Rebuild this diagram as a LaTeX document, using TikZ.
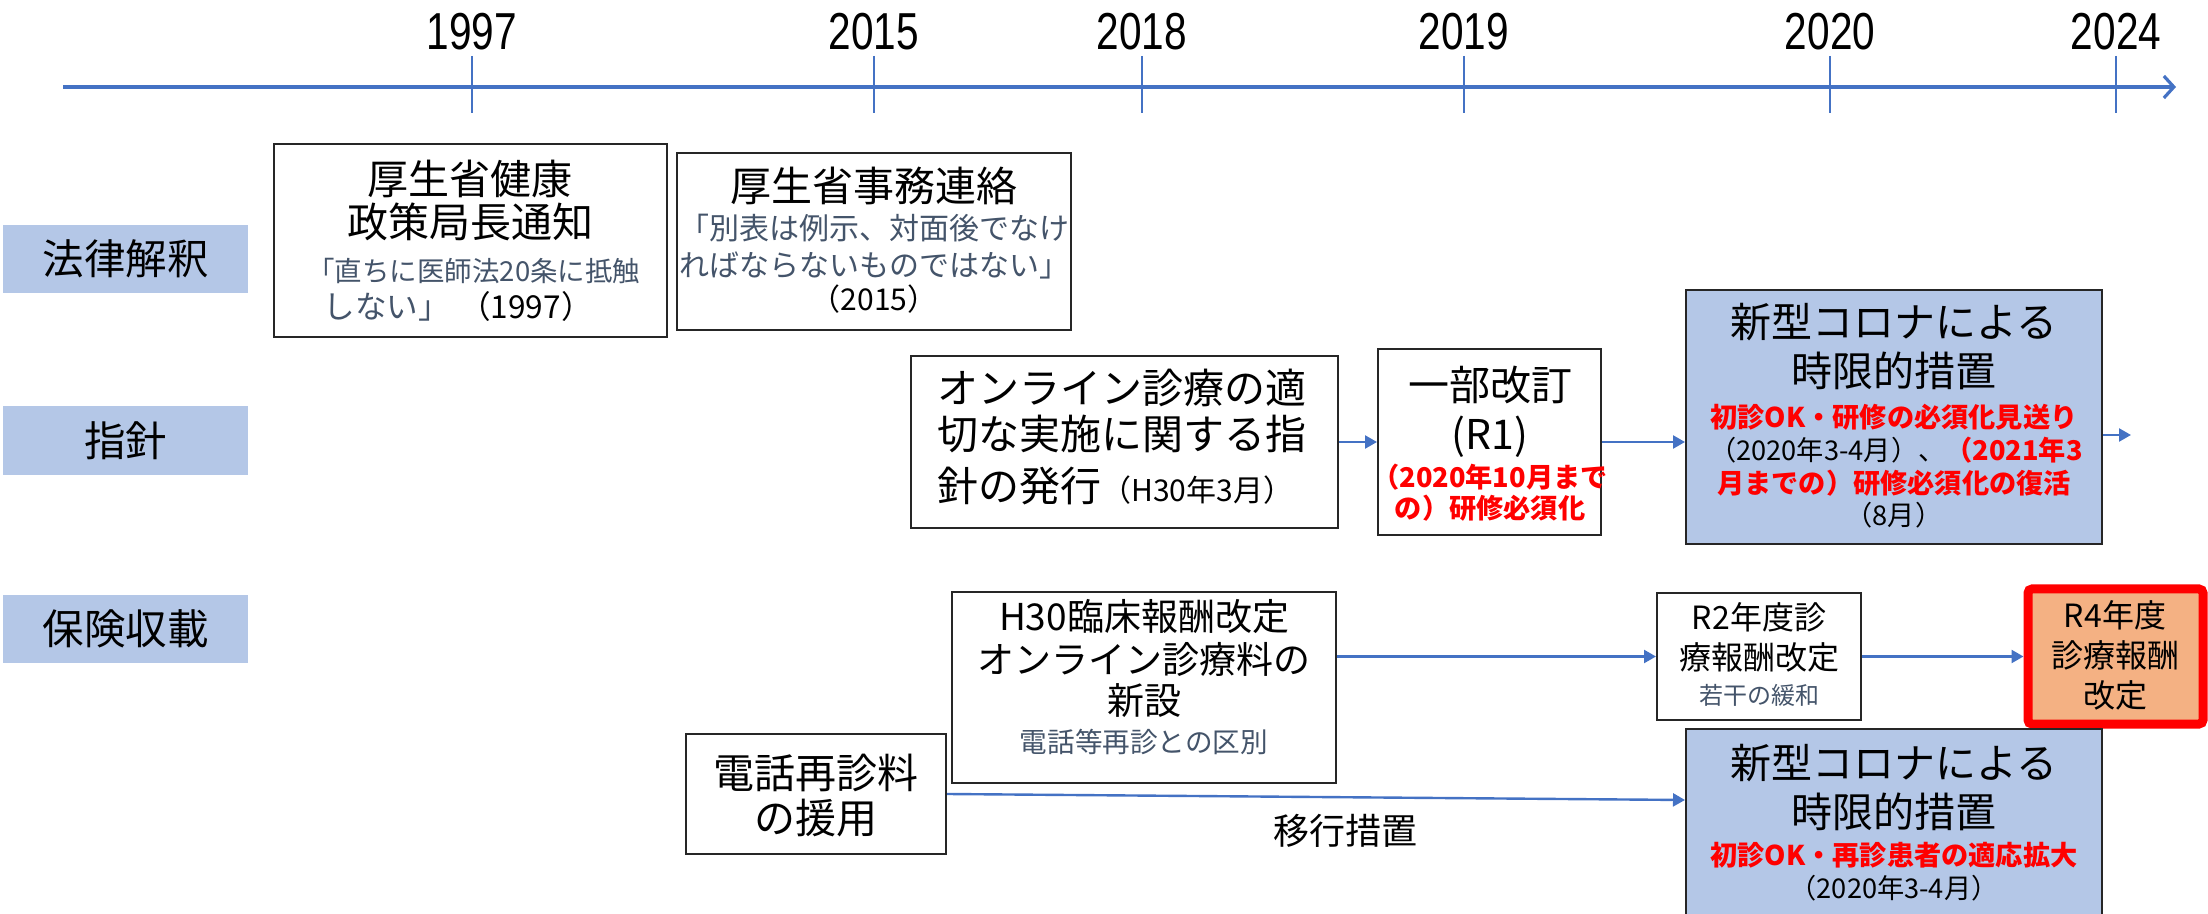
\documentclass[tikz,border=0pt]{standalone}
\usepackage{fontspec}
\usepackage{graphicx}
\setmainfont{Noto Sans CJK JP}
\newfontfamily\yearfont{Liberation Sans}
\usetikzlibrary{arrows.meta,fit,calc}
\definecolor{axisblue}{HTML}{4472C4}
\definecolor{lblue}{HTML}{B4C7E7}
\definecolor{gblue}{HTML}{44546A}
\definecolor{rred}{HTML}{FF0000}
\definecolor{orng}{HTML}{F4B183}
\newcommand\szBig{\fontsize{20.5}{24}\selectfont}
\newcommand\szSm{\fontsize{15}{18}\selectfont}
\newcommand\szRed{\fontsize{13.6}{16}\selectfont\bfseries}
\newcommand\szMid{\fontsize{18.5}{22}\selectfont}
\newcommand\szIJ{\fontsize{16}{19}\selectfont}
\newcommand\narrowyear[1]{\scalebox{0.78}[1]{#1}}
\begin{document}
\begin{tikzpicture}[x=0.5pt,y=-0.5pt,
  box/.style={draw=black!85, line width=1pt, fill=white, inner sep=0pt},
  bluebox/.style={box, fill=lblue},
  lab/.style={fill=lblue, inner sep=0pt},
  txt/.style={inner sep=0pt, align=center},
  gtxt/.style={txt, text=gblue},
  rtxt/.style={txt, text=rred},
  conn/.style={draw=axisblue, line width=1.2pt, -{Triangle[length=6pt,width=6.5pt]}},
  axisline/.style={draw=axisblue, line width=2pt, -{Straight Barb[length=5pt,width=11pt,line width=1.6pt]}},
  ticks/.style={draw=axisblue, line width=0.8pt},
  year/.style={inner sep=0pt, font=\yearfont\fontsize{26}{28}\selectfont}]
\useasboundingbox (0,0) rectangle (2208,914);

% timeline
\coordinate (ax0) at (63,87);
\coordinate (ax1) at (2176,87);
\draw[axisline] (ax0) -- (ax1);
\foreach \xx/\yr in {472/1997,874/2015,1142/2018,1464/2019,1830/2020,2116/2024}{
  \coordinate (t\yr a) at (\xx,56);
  \coordinate (t\yr b) at (\xx,113);
  \draw[ticks] (t\yr a) -- (t\yr b);
  \node[year] (y\yr) at (\xx,32) {\narrowyear{\yr}};
}

% row labels
\node[lab, fit={(3,225)(248,293)}] (L1) {};
\node[txt] (L1t) at (L1.center) {\fontsize{20.75}{24}\selectfont 法律解釈};
\node[lab, fit={(3,406)(248,475)}] (L2) {};
\node[txt] (L2t) at (L2.center) {\fontsize{20.75}{24}\selectfont 指針};
\node[lab, fit={(3,595)(248,663)}] (L3) {};
\node[txt] (L3t) at (L3.center) {\fontsize{20.75}{24}\selectfont 保険収載};

% Box A
\node[box, fit={(274,144)(667,337)}] (A) {};
\node[txt] (A1) at (470,179) {\szBig 厚生省健康};
\node[txt] (A2) at (470,222) {\szBig 政策局長通知};
\node[gtxt, anchor=west] (A3) at (307,271) {\fontsize{13.75}{16}\selectfont 「直ちに医師法20条に抵触};
\node[txt, anchor=west] (A4) at (323,306) {\fontsize{15.8}{18}\selectfont \textcolor{gblue}{しない」}\hspace{0.3em}（1997）};

% Box B
\node[box, fit={(677,153)(1071,330)}] (B) {};
\node[txt] (B1) at (874,186) {\szBig 厚生省事務連絡};
\node[gtxt] (B2) at (874,228) {\szSm 「別表は例示、対面後でなけ};
\node[gtxt] (B3) at (874,265) {\szSm ればならないものではない」};
\node[txt] (B4) at (874,299) {\szSm （2015）};

% Box C
\node[box, fit={(911,356)(1338,528)}] (C) {};
\node[txt, anchor=west] (C1) at (937,388) {\szBig オンライン診療の適};
\node[txt, anchor=west] (C2) at (937,434) {\szBig 切な実施に関する指};
\node[txt, anchor=west] (C3) at (937,486) {\szBig 針の発行{\szSm （H30年3月）}};

% Box D
\node[box, fit={(1378,349)(1601,535)}] (D) {};
\node[txt] (D1) at (1490,385) {\szBig 一部改訂};
\node[txt] (D2) at (1490,437) {\szBig (R1)};
\node[rtxt] (D3) at (1490,477) {\szRed （2020年10月まで};
\node[rtxt] (D4) at (1490,508) {\szRed の）研修必須化};

% Box E
\node[bluebox, fit={(1686,290)(2102,544)}] (E) {};
\node[txt] (E1) at (1894,322) {\szBig 新型コロナによる};
\node[txt] (E2) at (1894,371) {\szBig 時限的措置};
\node[rtxt] (E3) at (1894,417) {\szRed 初診OK・研修の必須化見送り};
\node[txt] (E4) at (1896,450) {\fontsize{13.6}{16}\selectfont （2020年3-4月）、\textcolor{rred}{\bfseries （2021年3}};
\node[rtxt] (E5) at (1894,483) {\szRed 月までの）研修必須化の復活};
\node[txt] (E6) at (1894,515) {\fontsize{13.6}{16}\selectfont （8月）};

% Box F
\node[box, fit={(952,592)(1336,783)}] (F) {};
\node[txt] (F1) at (1144,617) {\szMid H30臨床報酬改定};
\node[txt] (F2) at (1144,659) {\szMid オンライン診療料の};
\node[txt] (F3) at (1144,701) {\szMid 新設};
\node[gtxt] (F4) at (1144,742) {\fontsize{13.8}{16}\selectfont 電話等再診との区別};

% Box G
\node[box, fit={(686,734)(946,854)}] (G) {};
\node[txt] (G1) at (816,773) {\szBig 電話再診料};
\node[txt] (G2) at (816,818) {\szBig の援用};

% Box I
\node[box, fit={(1657,593)(1861,720)}] (I) {};
\node[txt] (I1) at (1759,617) {\szIJ R2年度診};
\node[txt] (I2) at (1759,657) {\szIJ 療報酬改定};
\node[gtxt] (I3) at (1759,695) {\fontsize{12}{14}\selectfont 若干の緩和};

% Box J
\node[draw=rred, fill=orng, line width=4.5pt, rounded corners=2pt, inner sep=0pt, fit={(2028,589)(2203,724)}] (J) {};
\node[txt] (J1) at (2115,615) {\szIJ R4年度};
\node[txt] (J2) at (2115,655) {\szIJ 診療報酬};
\node[txt] (J3) at (2115,695) {\szIJ 改定};

% Box H
\node[bluebox, fit={(1686,729)(2102,940)}] (H) {};
\node[txt] (H1) at (1894,763) {\szBig 新型コロナによる};
\node[txt] (H2) at (1894,812) {\szBig 時限的措置};
\node[rtxt] (H3) at (1894,855) {\szRed 初診OK・再診患者の適応拡大};
\node[txt] (H4) at (1894,888) {\fontsize{13.6}{16}\selectfont （2020年3-4月）};

% label
\node[txt] (mv) at (1345,831) {\fontsize{18}{21}\selectfont 移行措置};

% connectors
\draw[conn] (C.east) -- (D.west);
\draw[conn] (D.east) -- (D.east -| E.west);
\coordinate (Eout) at (2131,435);
\draw[conn] (Eout -| E.east) -- (Eout);
\draw[conn] (I.west -| F.east) -- (I.west);
\draw[conn] (I.east) -- (I.east -| J.west);
\draw[conn] (G.east) -- ($(H.north west)+(0,72)$);
\end{tikzpicture}
\end{document}
